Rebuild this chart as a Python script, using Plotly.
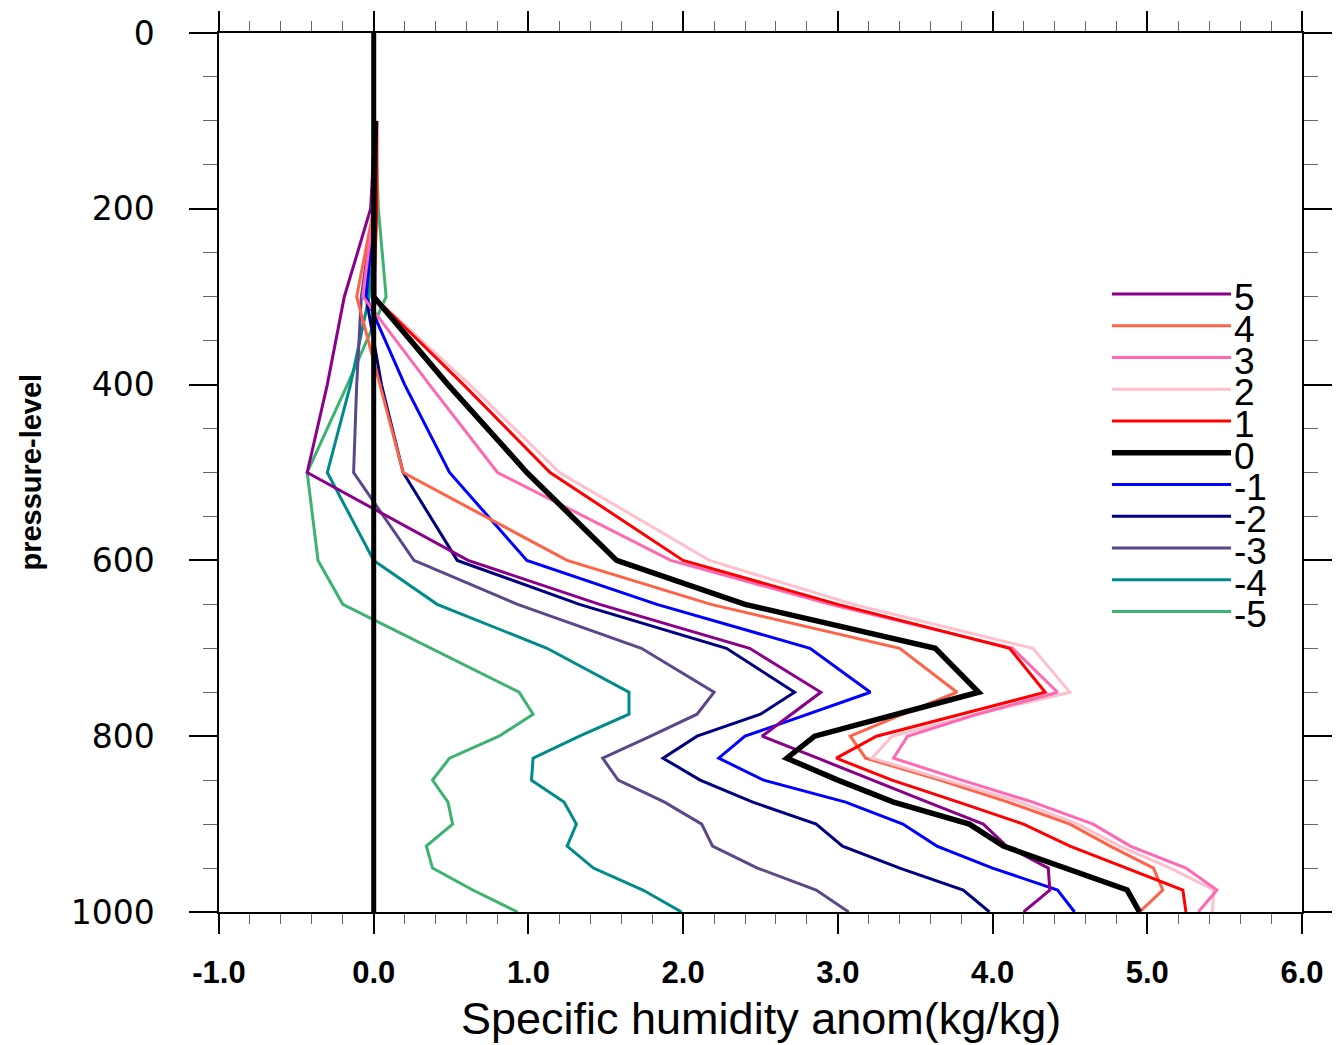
import plotly.graph_objects as go

# Pressure levels (hPa)
levels = [100, 200, 300, 400, 500, 600, 650, 700, 750, 775, 800, 825, 850, 875, 900, 925, 950, 975, 1000]

# Specific humidity anomaly per lag
lag_5 = [0.01, -0.02, -0.19, -0.30, -0.43, 0.61, 1.46, 2.43, 2.89, 2.70, 2.51, 2.87, 3.22, 3.58, 3.94, 4.09, 4.36, 4.37, 4.20]
lag_4 = [0.02, 0.00, -0.11, 0.04, 0.19, 1.25, 2.18, 3.40, 3.77, 3.42, 3.08, 3.18, 3.66, 4.10, 4.50, 4.76, 5.04, 5.10, 4.95]
lag_3 = [0.02, 0.00, -0.07, 0.36, 0.80, 1.92, 2.95, 4.13, 4.42, 3.90, 3.45, 3.36, 3.80, 4.26, 4.65, 4.89, 5.25, 5.45, 5.33]
lag_2 = [0.02, 0.02, 0.00, 0.62, 1.20, 2.17, 3.10, 4.26, 4.50, 3.90, 3.35, 3.22, 3.70, 4.18, 4.55, 4.82, 5.15, 5.43, 5.42]
lag_1 = [0.02, 0.02, 0.00, 0.58, 1.14, 2.00, 3.00, 4.11, 4.34, 3.80, 3.25, 2.99, 3.35, 3.78, 4.20, 4.50, 4.86, 5.23, 5.25]
lag_0 = [0.01, 0.00, 0.00, 0.48, 0.99, 1.57, 2.40, 3.63, 3.91, 3.38, 2.85, 2.67, 3.00, 3.36, 3.85, 4.07, 4.47, 4.87, 4.95]
lag_m1 = [0.01, 0.00, -0.05, 0.20, 0.49, 0.99, 1.83, 2.82, 3.21, 2.80, 2.40, 2.23, 2.52, 3.05, 3.42, 3.64, 4.00, 4.42, 4.53]
lag_m2 = [0.01, 0.00, -0.05, 0.05, 0.19, 0.54, 1.33, 2.28, 2.72, 2.50, 2.09, 1.87, 2.11, 2.45, 2.86, 3.03, 3.40, 3.81, 3.98]
lag_m3 = [0.01, 0.00, -0.08, -0.11, -0.13, 0.26, 0.93, 1.73, 2.20, 2.09, 1.79, 1.48, 1.58, 1.88, 2.12, 2.19, 2.48, 2.86, 3.07]
lag_m4 = [0.01, 0.00, -0.03, -0.15, -0.30, 0.00, 0.41, 1.12, 1.65, 1.65, 1.33, 1.03, 1.02, 1.23, 1.31, 1.25, 1.42, 1.74, 1.99]
lag_m5 = [0.01, 0.03, 0.08, -0.17, -0.43, -0.36, -0.20, 0.37, 0.94, 1.03, 0.81, 0.49, 0.38, 0.48, 0.51, 0.34, 0.38, 0.64, 0.93]

series_labels = ["5", "4", "3", "2", "1", "0", "-1", "-2", "-3", "-4", "-5"]
series_values = [lag_5, lag_4, lag_3, lag_2, lag_1, lag_0, lag_m1, lag_m2, lag_m3, lag_m4, lag_m5]
series_colors = ["#8B008B", "#FF6347", "#FF69B4", "#FFC0CB", "#FF0000", "#000000",
                 "#0000FF", "#000080", "#5D478B", "#008B8B", "#3CB371"]
series_widths = [3, 3, 3, 3, 3, 5.5, 3, 3, 3, 3, 3]

x_range = [-1, 6]
y_range = [1000, 0]
x_ticks = [-1, 0, 1, 2, 3, 4, 5, 6]
x_ticktext = ["-1.0", "0.0", "1.0", "2.0", "3.0", "4.0", "5.0", "6.0"]
y_ticks = [0, 200, 400, 600, 800, 1000]

fig = go.Figure()

# draw order: back to front so that black (0) sits above
order = [10, 9, 8, 7, 6, 0, 1, 3, 2, 4, 5]
for i in order:
    fig.add_trace(go.Scatter(
        x=series_values[i], y=levels, mode="lines", name=series_labels[i],
        line=dict(color=series_colors[i], width=series_widths[i]),
        showlegend=False))

# invisible trace to activate the mirrored top/right axes (ticks only)
fig.add_trace(go.Scatter(x=x_range, y=[y_range[1], y_range[0]], mode="lines",
                         line=dict(width=0), opacity=0, hoverinfo="skip",
                         showlegend=False, xaxis="x2", yaxis="y2"))

# zero reference line
fig.add_shape(type="line", xref="x", yref="y", x0=0, x1=0, y0=0, y1=1000,
              line=dict(color="black", width=5), layer="above")

# manual legend (long line samples with labels at their right end)
leg_x0, leg_x1 = 0.8245, 0.9345
leg_top = 0.7030
leg_step = 0.0361
for k, lab in enumerate(series_labels):
    yy = leg_top - k * leg_step
    fig.add_shape(type="line", xref="paper", yref="paper",
                  x0=leg_x0, x1=leg_x1, y0=yy, y1=yy,
                  line=dict(color=series_colors[k], width=series_widths[k]))
    fig.add_annotation(xref="paper", yref="paper", x=leg_x1 + 0.001, y=yy - 0.004,
                       text=lab, showarrow=False, xanchor="left", yanchor="middle",
                       font=dict(family="Liberation Sans, Arial, sans-serif", size=37, color="black"))

# axis titles
fig.add_annotation(xref="paper", yref="paper", x=0.5, y=-0.121, text="Specific humidity anom(kg/kg)",
                   showarrow=False, xanchor="center", yanchor="middle",
                   font=dict(family="Liberation Sans, Arial, sans-serif", size=45, color="black"))
fig.add_annotation(xref="paper", yref="paper", x=-0.1745, y=0.5, text="<b>pressure-level</b>",
                   showarrow=False, xanchor="center", yanchor="middle", textangle=-90,
                   font=dict(family="Liberation Sans, Arial, sans-serif", size=29, color="black"))

common_x = dict(range=x_range, tickvals=x_ticks, showgrid=False, zeroline=False,
                showline=True, linecolor="black", linewidth=1.5,
                ticks="outside", ticklen=20, tickwidth=1.5, tickcolor="black",
                minor=dict(dtick=0.2, ticks="outside", ticklen=10, tickwidth=1.2,
                           tickcolor="#666", showgrid=False))
common_y = dict(range=y_range, tickvals=y_ticks, showgrid=False, zeroline=False,
                showline=True, linecolor="black", linewidth=1.5,
                ticks="outside", ticklen=28, tickwidth=1.5, tickcolor="black",
                minor=dict(dtick=50, ticks="outside", ticklen=14, tickwidth=1.2,
                           tickcolor="#666", showgrid=False))

fig.update_layout(
    width=1341, height=1045,
    margin=dict(l=219, r=39, t=33, b=133),
    paper_bgcolor="white", plot_bgcolor="white",
    xaxis=dict(**common_x, ticktext=x_ticktext, ticklabelstandoff=12,
               tickfont=dict(family="Liberation Sans, Arial, sans-serif", size=31,
                             color="black", weight="bold")),
    yaxis=dict(**common_y, ticklabelstandoff=28,
               tickfont=dict(family="DejaVu Sans, sans-serif", size=33, color="black")),
    xaxis2=dict(**common_x, overlaying="x", side="top", anchor="y2", showticklabels=False),
    yaxis2=dict(**common_y, overlaying="y", side="right", anchor="x2", showticklabels=False),
)

fig.write_html("out.html")
